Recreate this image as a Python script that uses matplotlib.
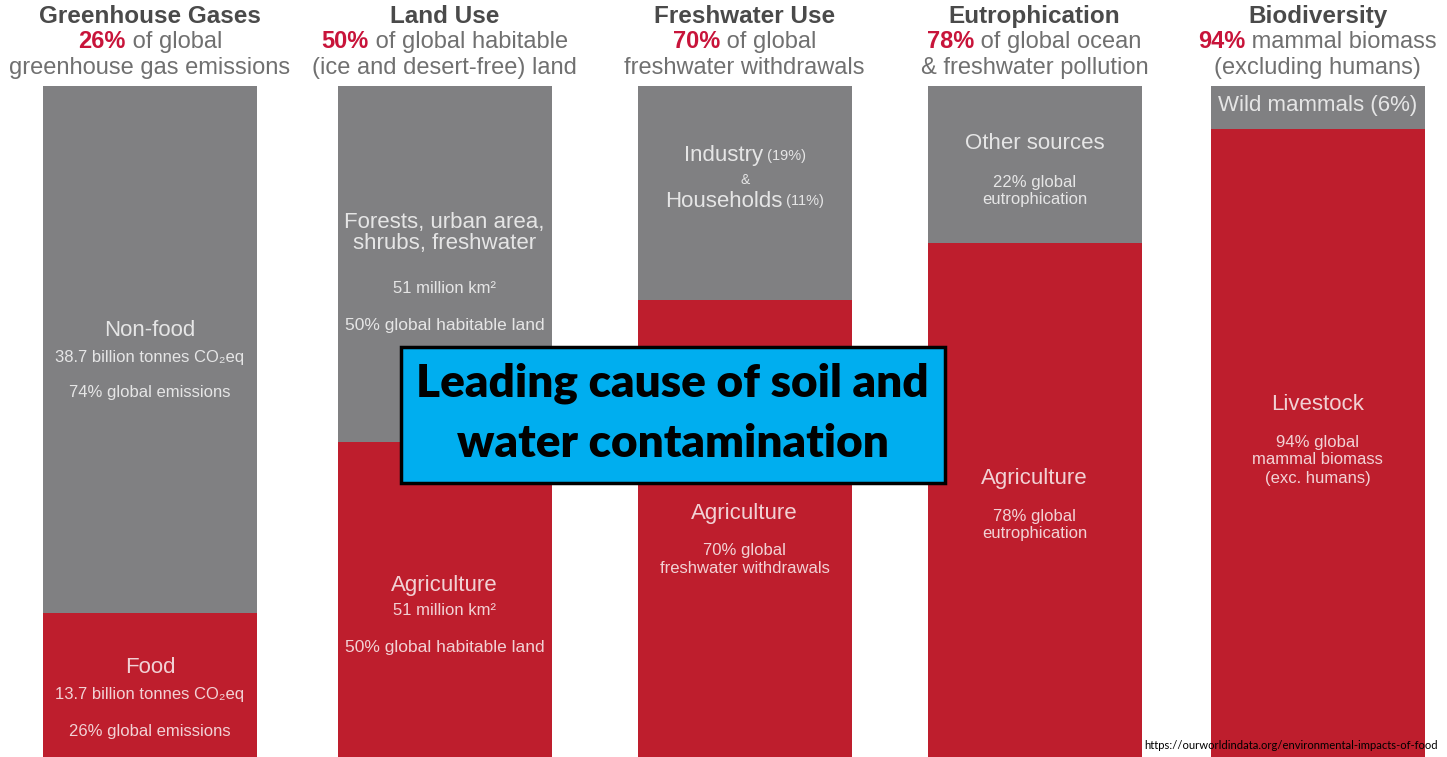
import matplotlib
matplotlib.use("Agg")
import matplotlib.pyplot as plt
from matplotlib.patches import Rectangle

plt.rcParams["font.family"] = ["Liberation Sans", "DejaVu Sans"]

# data
categories = ["Greenhouse Gases", "Land Use", "Freshwater Use", "Eutrophication", "Biodiversity"]
food_share = [26, 50, 70, 78, 94]
pct_labels = ["26%", "50%", "70%", "78%", "94%"]
sub_rest = [" of global", " of global habitable", " of global", " of global ocean", " mammal biomass"]
sub_line2 = ["greenhouse gas emissions", "(ice and desert-free) land", "freshwater withdrawals",
             "& freshwater pollution", "(excluding humans)"]

RED = "#BE1E2D"
GREY = "#808082"
PCT_RED = "#C8143A"

fig = plt.figure(figsize=(14.47, 7.57), dpi=100)
ax = fig.add_axes([0, 0, 1, 1])
ax.set_xlim(-0.514, 4.443)
ax.set_ylim(5.76, 112.08)
ax.axis("off")

xpos = [0, 1.009, 2.037, 3.03, 4.0]
width = 0.733

other_share = [100 - v for v in food_share]
ax.bar(xpos, food_share, width=width, color=RED)
ax.bar(xpos, other_share, bottom=food_share, width=width, color=GREY)

# headings
fig.canvas.draw()
r = fig.canvas.get_renderer()
for x, cat, pct, rest, l2 in zip(xpos, categories, pct_labels, sub_rest, sub_line2):
    ax.text(x, 109.8, cat, ha="center", va="center", fontsize=17.5, fontweight="bold", color="#4a4a4a")
    t1 = ax.text(x, 106.2, pct, ha="left", va="center", fontsize=17, fontweight="bold", color=PCT_RED)
    t2 = ax.text(x, 106.2, rest, ha="left", va="center", fontsize=17, color="#707070")
    w1 = t1.get_window_extent(r).width
    w2 = t2.get_window_extent(r).width
    inv = ax.transData.inverted()
    x0_px = ax.transData.transform((x, 0))[0] - (w1 + w2) / 2
    t1.set_x(inv.transform((x0_px, 0))[0])
    t2.set_x(inv.transform((x0_px + w1, 0))[0])
    ax.text(x, 102.5, l2, ha="center", va="center", fontsize=17, color="#707070")

# labels inside the bars: (bar, y, text, size)
W = dict(ha="center", va="center", color="white", alpha=0.8)
inner = [
    (0, 65.7, "Non-food", 16), (0, 61.9, "38.7 billion tonnes CO₂eq", 12), (0, 56.9, "74% global emissions", 12),
    (0, 18.3, "Food", 16), (0, 14.5, "13.7 billion tonnes CO₂eq", 12), (0, 9.4, "26% global emissions", 12),
    (1, 80.9, "Forests, urban area,", 16), (1, 77.9, "shrubs, freshwater", 16),
    (1, 71.5, "51 million km²", 12), (1, 66.4, "50% global habitable land", 12.5),
    (1, 29.8, "Agriculture", 16), (1, 26.4, "51 million km²", 12), (1, 21.2, "50% global habitable land", 12.5),
    (2, 86.8, "&", 10),
    (2, 40.0, "Agriculture", 16), (2, 34.8, "70% global", 12), (2, 32.2, "freshwater withdrawals", 12),
    (3, 91.9, "Other sources", 16), (3, 86.5, "22% global", 12), (3, 84.0, "eutrophication", 12),
    (3, 44.9, "Agriculture", 16), (3, 39.6, "78% global", 12), (3, 37.1, "eutrophication", 12),
    (4, 97.2, "Wild mammals (6%)", 16),
    (4, 55.2, "Livestock", 16), (4, 50.0, "94% global", 12), (4, 47.5, "mammal biomass", 12),
    (4, 44.9, "(exc. humans)", 12),
]
for i, y, s, fs in inner:
    ax.text(xpos[i], y, s, fontsize=fs, **W)

# mixed-size lines in freshwater bar
for y, big, small in [(90.2, "Industry", " (19%)"), (83.8, "Households", " (11%)")]:
    a = ax.text(0, y, big, fontsize=16, ha="left", va="center", color="white", alpha=0.8)
    b = ax.text(0, y, small, fontsize=10.5, ha="left", va="center", color="white", alpha=0.8)
    wa = a.get_window_extent(r).width
    wb = b.get_window_extent(r).width
    inv = ax.transData.inverted()
    x0 = ax.transData.transform((xpos[2], 0))[0] - (wa + wb) / 2
    a.set_x(inv.transform((x0, 0))[0])
    b.set_x(inv.transform((x0 + wa, 0))[0])

# overlay callout
ax.add_patch(Rectangle((0.860, 44.24), 1.865, 19.1, facecolor="#00AEEF", edgecolor="black",
                       linewidth=2.5, zorder=5))
ax.text(1.79, 58.3, "Leading cause of soil and", ha="center", va="center", fontsize=33,
        fontweight="heavy", family="Lato", color="black", zorder=6)
ax.text(1.79, 49.8, "water contamination", ha="center", va="center", fontsize=33,
        fontweight="heavy", family="Lato", color="black", zorder=6)

ax.text(3.405, 7.4, "https://ourworldindata.org/environmental-impacts-of-food", fontsize=8.1,
        family="Lato", color="black", ha="left", va="center", zorder=6)

fig.savefig("out.png", dpi=100)
